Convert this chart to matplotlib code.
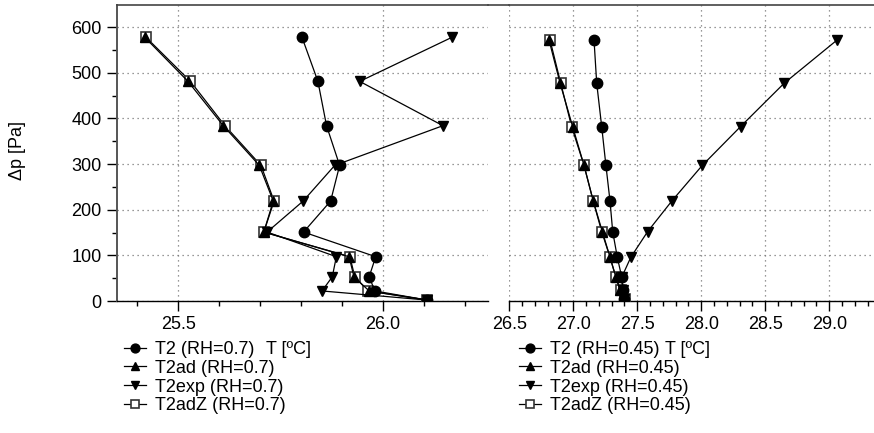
import matplotlib
matplotlib.use("Agg")
import matplotlib.pyplot as plt
from matplotlib.lines import Line2D
from matplotlib.ticker import MultipleLocator, FormatStrFormatter

plt.rcParams['font.family'] = ['Liberation Sans', 'DejaVu Sans']

# ---- data: RH = 0.7 (left panel) ----
dp_70 = [578, 481, 384, 297, 219, 151, 97, 53, 22, 2]
t2_70 = [25.802, 25.841, 25.862, 25.894, 25.872, 25.806, 25.982, 25.966, 25.980, 26.108]
t2ad_70 = [25.418, 25.524, 25.610, 25.698, 25.732, 25.709, 25.917, 25.929, 25.966, 26.108]
t2exp_70 = [26.169, 25.943, 26.146, 25.882, 25.805, 25.717, 25.886, 25.876, 25.851, 26.108]
t2adz_70 = [25.421, 25.530, 25.614, 25.702, 25.734, 25.709, 25.919, 25.931, 25.963, 26.108]

# ---- data: RH = 0.45 (right panel) ----
dp_45 = [572, 477, 382, 297, 219, 152, 96, 53, 23, 4]
t2_45 = [27.162, 27.183, 27.222, 27.255, 27.287, 27.308, 27.344, 27.378, 27.386, 27.396]
t2ad_45 = [26.810, 26.897, 26.995, 27.084, 27.156, 27.227, 27.287, 27.332, 27.365, 27.400]
t2exp_45 = [29.063, 28.648, 28.307, 28.008, 27.770, 27.581, 27.450, 27.380, 27.390, 27.400]
t2adz_45 = [26.818, 26.902, 26.987, 27.084, 27.156, 27.222, 27.287, 27.332, 27.370, 27.404]

labels_70 = ["T2 (RH=0.7)", "T2ad (RH=0.7)", "T2exp (RH=0.7)", "T2adZ (RH=0.7)"]
labels_45 = ["T2 (RH=0.45)", "T2ad (RH=0.45)", "T2exp (RH=0.45)", "T2adZ (RH=0.45)"]
xlabel = "T [ºC]"
ylabel = "Δp [Pa]"

W, H = 874, 433
fig = plt.figure(figsize=(W / 100, H / 100), dpi=100)

FS = 13
bot = 1 - 301 / H
top = 1 - 4.7 / H
axL = fig.add_axes([116.7 / W, bot, (488 - 116.7) / W, top - bot])
axR = fig.add_axes([509.3 / W, bot, (874 - 509.3) / W, top - bot])

styles = dict(
    z=dict(marker='s', ms=7.5, mfc='white', mec='#333333', mew=1.2, color='black', lw=0.9),
    ad=dict(marker='^', ms=7, mfc='black', mec='black', color='black', lw=0.9),
    exp=dict(marker='v', ms=7, mfc='black', mec='black', color='black', lw=0.9),
    t2=dict(marker='o', ms=7.5, mfc='black', mec='black', color='black', lw=0.9),
)

for ax, dp, t2, ad, ex, z in [(axL, dp_70, t2_70, t2ad_70, t2exp_70, t2adz_70),
                             (axR, dp_45, t2_45, t2ad_45, t2exp_45, t2adz_45)]:
    ax.plot(z, dp, zorder=3, **styles['z'])
    ax.plot(ad, dp, zorder=4, **styles['ad'])
    ax.plot(ex, dp, zorder=4, **styles['exp'])
    ax.plot(t2, dp, zorder=5, **styles['t2'])
    ax.set_ylim(0, 649)
    ax.yaxis.set_major_locator(MultipleLocator(100))
    ax.yaxis.set_minor_locator(MultipleLocator(50))
    ax.xaxis.set_major_locator(MultipleLocator(0.5))
    ax.xaxis.set_minor_locator(MultipleLocator(0.1))
    ax.xaxis.set_major_formatter(FormatStrFormatter('%.1f'))
    ax.grid(True, which='major', linestyle=(0, (1, 3)), color='#777777', lw=0.9)
    ax.set_axisbelow(True)
    ax.tick_params(which='major', direction='out', length=7, width=1, labelsize=FS, pad=4)
    ax.tick_params(which='minor', direction='out', length=3.5, width=1)
    ax.spines['right'].set_visible(False)
    ax.spines['top'].set_color('#444444')
    ax.spines['top'].set_linewidth(1.2)
    ax.spines['bottom'].set_color('black')
    ax.spines['bottom'].set_linewidth(1.0)

axL.set_xlim(25.35, 26.256)
axL.spines['left'].set_color('#555555')
axL.spines['left'].set_linewidth(1.4)

axR.set_xlim(26.5, 29.35)
axR.spines['left'].set_visible(False)
axR.tick_params(axis='y', which='both', left=False, labelleft=False)

# continuous top line across the gap
fig.add_artist(Line2D([488 / W, 509.3 / W], [top, top], transform=fig.transFigure,
                      color='#444444', lw=1.2))

# y label
fig.text(18 / W, 1 - 150 / H, ylabel, rotation=90, ha='center', va='center', fontsize=FS)

# legends
def handles():
    return [Line2D([], [], **styles['t2']),
            Line2D([], [], **styles['ad']),
            Line2D([], [], **styles['exp']),
            Line2D([], [], **styles['z'])]

for x0, labs, tx in [(124, labels_70, 266), (519, labels_45, 665)]:
    fig.legend(handles(), labs, loc='upper left', bbox_to_anchor=(x0 / W, 1 - 341 / H),
               frameon=False, fontsize=FS, handlelength=1.2, handletextpad=0.5,
               labelspacing=0.1, borderpad=0, borderaxespad=0, markerscale=0.85)
    fig.text(tx / W, 1 - 350 / H, xlabel, ha='left', va='center', fontsize=FS)

fig.savefig("out.png", dpi=100)
